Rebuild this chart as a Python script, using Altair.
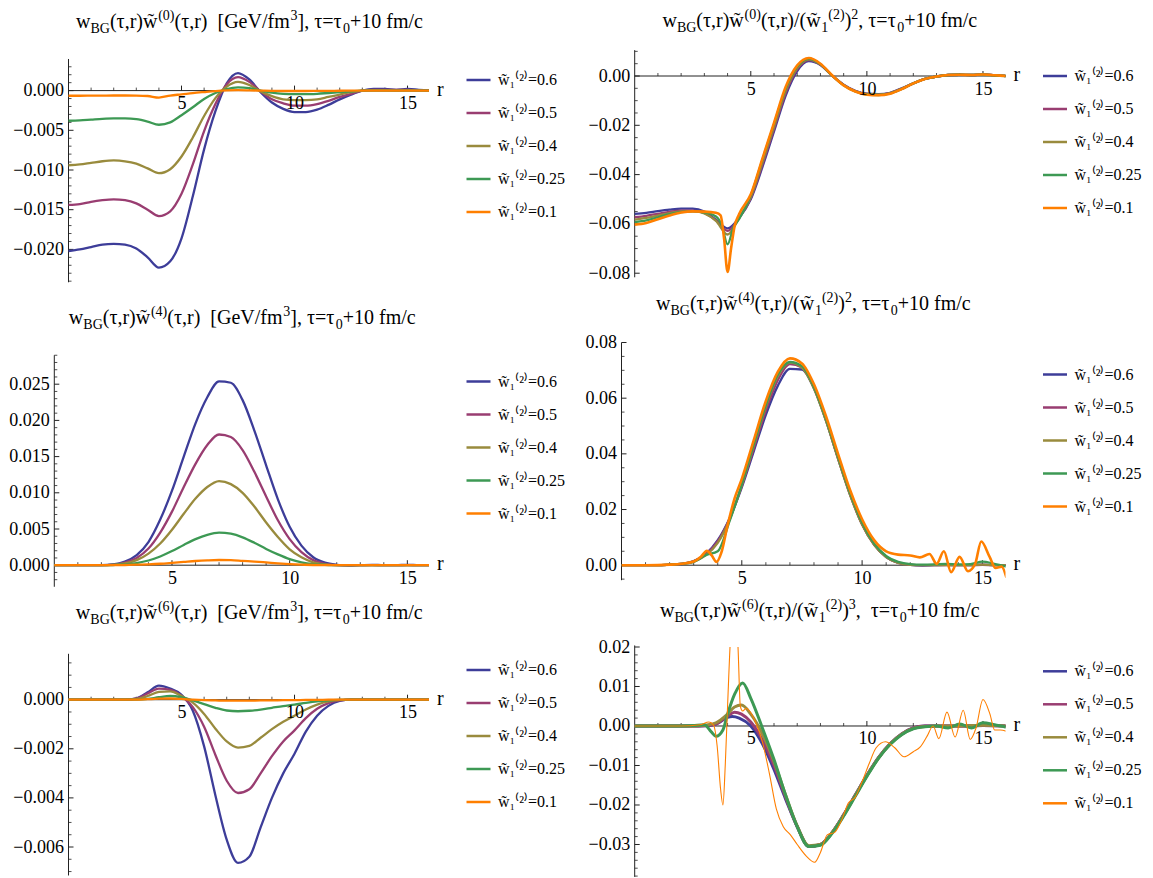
import altair as alt
import pandas as pd

FONT = "Liberation Serif"
AXIS_COLOR = "#222222"
UNIT = 1e-3
NB = "\u00a0"
WT = "w\u0303"

SERIES = [WT + "\u2081\u207d\u00b2\u207e=0.6", WT + "\u2081\u207d\u00b2\u207e=0.5",
          WT + "\u2081\u207d\u00b2\u207e=0.4", WT + "\u2081\u207d\u00b2\u207e=0.25",
          WT + "\u2081\u207d\u00b2\u207e=0.1"]
COLORS = ["#3d3d99", "#993d71", "#998b3d", "#3d9954", "#ff7f00"]

R = [0, 0.5, 1, 1.5, 2, 2.5, 3, 3.5, 4, 4.5, 5, 5.5, 6, 6.5, 7, 7.5, 8, 8.5,
     9, 9.5, 10, 10.5, 11, 11.5, 12, 12.5, 13, 13.5, 14, 14.5, 15, 15.5, 16]
X_MAJOR = [5, 10, 15]
X_MINOR = [1, 2, 3, 4, 6, 7, 8, 9, 11, 12, 13, 14]

# ---------------- panel 1 : w_BG w^(0)  (units 1e-3)
P1_06 = [-20.2, -20.0, -19.7, -19.4, -19.3, -19.4, -19.9, -21.0, -22.3, -21.5, -18.6, -13.3, -7.4, -2.6, 0.9,
         2.2, 1.4, -0.2, -1.5, -2.3, -2.7, -2.7, -2.4, -1.8, -1.1, -0.5, 0.0, 0.2, 0.2, 0.1, 0.2, 0.1, 0.0]
P1_05 = [-14.4, -14.3, -14.0, -13.8, -13.7, -13.8, -14.2, -15.0, -15.8, -15.2, -13.0, -9.3, -5.1, -1.7, 0.8,
         1.7, 1.1, -0.1, -1.1, -1.6, -1.9, -1.9, -1.7, -1.3, -0.8, -0.4, 0.0, 0.1, 0.1, 0.1, 0.1, 0.05, 0.0]
P1_04 = [-9.4, -9.3, -9.1, -8.9, -8.8, -8.9, -9.2, -9.8, -10.4, -9.9, -8.3, -5.9, -3.2, -0.95, 0.5,
         1.1, 0.7, -0.1, -0.7, -1.1, -1.2, -1.2, -1.1, -0.8, -0.5, -0.2, 0.0, 0.05, 0.05, 0.0, 0.05, 0.0, 0.0]
P1_025 = [-3.8, -3.75, -3.65, -3.55, -3.5, -3.5, -3.6, -3.9, -4.3, -4.0, -3.1, -2.1, -1.05, -0.3, 0.2,
          0.4, 0.3, 0.0, -0.25, -0.4, -0.45, -0.45, -0.4, -0.3, -0.2, -0.1, 0, 0, 0, 0, 0, 0, 0]
P1_01 = [-0.65, -0.65, -0.64, -0.63, -0.62, -0.62, -0.63, -0.68, -0.88, -0.62, -0.47, -0.31, -0.18, -0.06, 0.02,
         0.05, 0.03, 0.0, -0.03, -0.05, -0.05, -0.05, -0.04, -0.03, -0.02, -0.01, 0, 0, 0, 0, 0, 0, 0]

# ---------------- panel 2 : normalised w^(0)
P2_06 = [-55.9, -55.5, -54.8, -54.2, -53.8, -53.8, -55.0, -58.3, -61.8, -57.5, -50.0, -37.0, -22.5, -8.0, 2.0,
         6.0, 4.5, 0.2, -3.5, -6.0, -7.2, -7.4, -6.8, -5.0, -3.0, -1.2, -0.2, 0.4, 0.5, 0.4, 0.6, 0.3, 0.0]
P2_05 = [-57.3, -56.7, -55.9, -55.1, -54.6, -54.6, -55.6, -58.6, -62.8, -57.5, -49.5, -36.0, -21.5, -7.0, 2.8,
         6.5, 4.6, 0.2, -3.6, -6.1, -7.3, -7.5, -6.9, -5.1, -3.0, -1.2, -0.2, 0.4, 0.5, 0.4, 0.6, 0.3, 0.0]
P2_04 = [-58.3, -57.6, -56.6, -55.6, -54.9, -54.8, -55.8, -58.8, -64.3, -57.5, -49.0, -35.0, -20.5, -6.0, 3.3,
         6.8, 4.7, 0.2, -3.7, -6.2, -7.4, -7.6, -7.0, -5.2, -3.0, -1.2, -0.2, 0.4, 0.5, 0.4, 0.6, 0.3, 0.0]
P2_025_R = [0, 0.5, 1, 1.5, 2, 2.5, 3, 3.5, 3.75, 4, 4.25, 4.5, 5, 5.5, 6, 6.5, 7, 7.5, 8, 8.5,
            9, 9.5, 10, 10.5, 11, 11.5, 12, 12.5, 13, 13.5, 14, 14.5, 15, 15.5, 16]
P2_025 = [-59.3, -58.6, -57.3, -56.0, -55.2, -54.9, -55.3, -57.0, -60.5, -68.3, -61.5, -58.0, -48.5, -34.0,
          -19.5, -5.2, 3.8, 7.0, 4.8, 0.2, -3.8, -6.3, -7.5, -7.7, -7.1, -5.3, -3.0, -1.2, -0.2, 0.4, 0.5,
          0.4, 0.5, 0.2, 0.0]
P2_01_R = [0, 0.5, 1, 1.5, 2, 2.5, 3, 3.5, 3.7, 3.85, 4.0, 4.15, 4.3, 4.5, 5, 5.5, 6, 6.5, 7, 7.5, 8, 8.5,
           9, 9.5, 10, 10.5, 11, 11.5, 12, 12.5, 13, 13.5, 14, 14.5, 15, 15.5, 16]
P2_01 = [-60.3, -59.6, -58.1, -56.6, -55.4, -54.9, -55.0, -55.5, -56.5, -66.0, -79.5, -70.0, -61.0, -56.0,
         -48.0, -33.5, -19.0, -4.5, 4.3, 7.3, 5.0, 0.3, -3.8, -6.3, -7.6, -7.8, -7.2, -5.3, -3.0, -1.2, -0.2,
         0.4, 0.5, 0.4, 0.6, 0.3, 0.0]

# ---------------- panel 3 : w_BG w^(4)
P3_06 = [0, 0, 0, 0, 0, 0.1, 0.5, 1.4, 3.2, 6.3, 10.3, 15.0, 19.6, 23.2, 25.4, 25.2, 22.8, 18.6, 13.8, 9.1,
         5.3, 2.7, 1.1, 0.35, 0.05, -0.05, 0, 0.05, 0, 0, 0.05, 0, 0]
P3_05 = [0, 0, 0, 0, 0, 0.07, 0.35, 1.0, 2.3, 4.5, 7.4, 10.8, 14.0, 16.6, 18.05, 17.7, 15.9, 12.9, 9.5, 6.2,
         3.6, 1.8, 0.7, 0.2, 0.0, 0, 0, 0, 0, 0, 0, 0, 0]
P3_04 = [0, 0, 0, 0, 0, 0.05, 0.25, 0.7, 1.6, 3.0, 4.9, 7.1, 9.2, 10.8, 11.6, 11.2, 10.0, 8.1, 5.9, 3.9,
         2.2, 1.1, 0.4, 0.1, 0, 0, 0, 0, 0, 0, 0, 0, 0]
P3_025 = [0, 0, 0, 0, 0, 0.03, 0.1, 0.3, 0.65, 1.2, 1.95, 2.8, 3.6, 4.2, 4.5, 4.35, 3.85, 3.1, 2.25, 1.5,
          0.85, 0.4, 0.15, 0.05, 0, 0, 0, 0, 0, 0, 0, 0, 0]
P3_01 = [0, 0, 0, 0, 0, 0, 0.03, 0.07, 0.12, 0.2, 0.32, 0.45, 0.58, 0.67, 0.72, 0.7, 0.6, 0.5, 0.38, 0.25,
         0.15, 0.08, 0.03, 0.01, 0, 0, 0, 0, 0, 0, 0, 0, 0]

# ---------------- panel 4 : normalised w^(4)
P4_06 = [0, 0, 0, 0, 0.2, 0.5, 1.5, 4.0, 9.0, 17.0, 28.0, 41.0, 54.0, 64.5, 70.5, 70.3, 63.5, 52.0, 38.5, 25.5,
         14.8, 7.5, 3.0, 0.9, 0.1, -0.1, 0, 0.1, 0, 0, 0.2, 0, 0]
P4_05 = [0, 0, 0, 0, 0.2, 0.5, 1.4, 3.8, 8.6, 16.8, 28.5, 42.0, 55.5, 66.5, 72.2, 71.0, 63.8, 52.0, 38.3, 25.3,
         14.6, 7.3, 2.9, 0.8, 0.1, 0, 0, 0, 0, 0, 0.1, 0, 0]
P4_04 = [0, 0, 0, 0, 0.2, 0.5, 1.3, 3.5, 8.0, 16.5, 28.8, 43.0, 57.0, 68.0, 72.8, 71.0, 63.5, 51.8, 38.3, 25.3,
         14.6, 7.3, 2.9, 0.8, 0.1, 0, 0, 0, 0, 0, 0.2, 0, 0]
P4_025 = [0, 0, 0, 0, 0.2, 0.5, 1.2, 3.6, 5.0, 16.0, 29.0, 43.5, 57.5, 68.5, 73.0, 71.5, 64.0, 52.5, 39.0, 26.0,
          15.3, 7.8, 3.3, 1.2, 0.4, 0.2, 0.3, 0.5, 0.3, 0.4, 1.3, 0.5, -0.5]
P4_01_R = [0, 1, 2, 2.5, 3, 3.3, 3.55, 3.75, 3.95, 4.15, 4.4, 4.7, 5, 5.5, 6, 6.5, 7, 7.5, 8, 8.5,
           9, 9.5, 10, 10.5, 11, 11.5, 12, 12.4, 12.8, 13.1, 13.4, 13.7, 14.05, 14.4, 14.7, 14.95, 15.3,
           15.55, 15.8, 16]
P4_01 = [0, 0, 0.2, 0.5, 1.3, 3.0, 5.2, 3.5, 1.2, 4.5, 14.0, 24.0, 31.0, 45.0, 59.0, 69.5, 74.3, 72.5, 65.0,
         53.5, 40.0, 27.0, 16.5, 9.0, 5.0, 3.8, 3.5, 2.8, 4.0, 0.5, 5.0, -2.5, 3.0, -2.2, 0.5, 8.5, 3.0, -1.0,
         -0.5, -4.5]

# ---------------- panel 5 : w_BG w^(6)
P5_06 = [0, 0, 0, 0, 0, 0, 0.05, 0.3, 0.57, 0.45, 0.2, -0.45, -1.9, -3.9, -5.7, -6.65, -6.4, -5.2, -4.0, -3.0,
         -2.2, -1.3, -0.65, -0.25, -0.05, 0, 0, 0, 0, 0, 0, 0, 0]
P5_05 = [0, 0, 0, 0, 0, 0, 0.04, 0.25, 0.45, 0.4, 0.15, -0.3, -1.1, -2.25, -3.3, -3.8, -3.65, -3.0, -2.3, -1.7,
         -1.25, -0.75, -0.37, -0.14, -0.03, 0, 0, 0, 0, 0, 0, 0, 0]
P5_04 = [0, 0, 0, 0, 0, 0, 0.03, 0.15, 0.32, 0.34, 0.15, -0.12, -0.58, -1.18, -1.7, -1.95, -1.88, -1.55, -1.2,
         -0.9, -0.65, -0.4, -0.2, -0.07, -0.01, 0, 0, 0, 0, 0, 0, 0, 0]
P5_025 = [0, 0, 0, 0, 0, 0, 0, 0.03, 0.1, 0.15, 0.1, -0.03, -0.18, -0.33, -0.44, -0.47, -0.45, -0.4, -0.33,
          -0.26, -0.2, -0.13, -0.07, -0.03, -0.01, 0, 0, 0, 0, 0, 0, 0, 0]
P5_01 = [0, 0, 0, 0, 0, 0, 0, 0.02, 0.04, 0.05, 0.03, 0, -0.02, -0.03, -0.04, -0.04, -0.04, -0.03, -0.03, -0.02,
         -0.02, -0.01, -0.01, 0, 0, 0, 0, 0, 0, 0, 0, 0, 0]

# ---------------- panel 6 : normalised w^(6)
P6_06_R = [0, 1, 2, 2.5, 3, 3.5, 4, 4.2, 4.5, 5, 5.5, 6, 6.5, 7, 7.5, 8, 8.5, 9, 9.5, 10,
           10.5, 11, 11.5, 12, 12.5, 13, 14, 15, 16]
P6_06 = [0, 0, 0, 0, 0.05, 0.5, 2.2, 2.4, 2.0, 0.0, -4.5, -11.0, -18.5, -25.5, -30.5, -30.0, -27.0, -22.5,
         -17.5, -12.5, -8.0, -4.5, -2.0, -0.5, 0, 0, 0, 0.1, 0]
P6_05_R = [0, 1, 2, 2.5, 3, 3.5, 4, 4.3, 4.6, 5, 5.5, 6, 6.5, 7, 7.5, 8, 8.5, 9, 9.5, 10,
           10.5, 11, 11.5, 12, 12.5, 13, 14, 15, 16]
P6_05 = [0, 0, 0, 0, 0.05, 0.5, 2.5, 3.5, 3.0, 1.0, -3.5, -10.0, -18.0, -25.5, -30.5, -30.0, -27.0, -22.5,
         -17.5, -12.5, -8.0, -4.5, -2.0, -0.5, 0, 0, 0, 0.1, 0]
P6_04_R = [0, 1, 2, 2.5, 3, 3.5, 4, 4.3, 4.6, 5, 5.5, 6, 6.5, 7, 7.5, 8, 8.5, 9, 9.5, 10,
           10.5, 11, 11.5, 12, 12.5, 13, 14, 15, 16]
P6_04 = [0, 0, 0, 0, 0.2, 0.8, 3.0, 4.8, 5.3, 3.0, -2.0, -9.0, -17.5, -25.3, -30.3, -30.0, -27.0, -22.6,
         -17.6, -12.6, -8.1, -4.6, -2.1, -0.6, -0.1, 0, 0, 0.2, 0]
P6_025_R = [0, 1, 2, 2.5, 3, 3.3, 3.5, 3.8, 4, 4.3, 4.65, 5, 5.5, 6, 6.5, 7, 7.5, 8, 8.5, 9,
            9.5, 10, 10.5, 11, 11.5, 12, 12.5, 13, 13.5, 14, 14.5, 15, 15.5, 16]
P6_025 = [0, 0, 0, 0.1, 0.3, -1.5, -2.6, -1.0, 3.0, 8.0, 10.9, 7.0, -0.5, -8.5, -17.5, -25.5, -30.5, -30.2,
          -27.2, -22.8, -17.8, -12.8, -8.2, -4.7, -2.2, -0.7, -0.2, 0, -0.5, 0.5, -0.5, 0.8, 0.3, -0.3]
P6_01_R = [0, 2, 2.8, 3.2, 3.4, 3.55, 3.7, 3.8, 3.9, 4.0, 4.15, 4.3, 4.45, 4.55, 4.65, 4.8, 4.95, 5.2, 5.5,
           5.8, 6.1, 6.4, 6.7, 7.0, 7.4, 7.75, 8.0, 8.3, 8.6, 8.9, 9.2, 9.5, 9.8, 10.1, 10.4, 10.8, 11.2,
           11.6, 12.0, 12.3, 12.6, 12.85, 13.1, 13.45, 13.8, 14.15, 14.45, 14.7, 15.0, 15.3, 15.5, 15.75, 16]
P6_01 = [0, 0, 0.3, 1.0, 0.2, -5, -16, -20, -10, 5, 25, 32, 20, 5, 3.8, 4.5, 3.8, 1, -4, -12, -21, -25.5,
         -27.5, -30, -33, -34.5, -32, -27.5, -27, -24, -19.5, -18, -14, -9.5, -5.5, -4.0, -5.5, -7.8, -6.5,
         -5.3, -2.5, 0, -3.2, 3.5, -2.8, 4.0, -3.4, -0.5, 6.7, 3.0, -1.0, -1.0, -1.3]


# ---------------- titles (text, kind)
def _title(order, normalised, power=None, gap=""):
    segs = [("w", "n"), ("BG", "sub"), ("(τ,r)" + WT, "n"), ("(" + order + ")", "sup")]
    if not normalised:
        segs += [("(τ,r)" + NB + NB + "[GeV/fm", "n"), ("3", "sup"), ("]," + NB + "τ=τ", "n")]
    else:
        segs += [("(τ,r)/(" + WT, "n"), ("1", "sub"), ("(2)", "sup"), (")", "n"), (power, "sup"),
                 ("," + gap + NB + "τ=τ", "n")]
    segs += [("0", "sub"), ("+10" + NB + "fm/c", "n")]
    return segs


TW = {"w": 0.722, "B": 0.667, "G": 0.722, "(": 0.333, ")": 0.333, "τ": 0.44, ",": 0.25, "r": 0.333,
      NB: 0.25, " ": 0.25, "[": 0.333, "]": 0.333, "e": 0.444, "V": 0.722, "/": 0.278, "f": 0.333,
      "m": 0.778, "=": 0.564, "+": 0.564, "c": 0.444, "\u0303": 0.0}
SIZES = {"n": 20, "sub": 14, "sup": 14}
DYS = {"n": 0, "sub": 5, "sup": -8}


def text_width(s, size):
    return sum(TW.get(ch, 0.5) for ch in s) * size


def title_layers(segs, cx, base):
    total = sum(text_width(t, SIZES[k]) for t, k in segs)
    x = cx - total / 2
    out = []
    for t, k in segs:
        out.append(
            alt.Chart(pd.DataFrame({"t": [t]}))
            .mark_text(align="left", baseline="alphabetic", font=FONT, fontSize=SIZES[k], color="black")
            .encode(x=alt.value(x), y=alt.value(base + DYS[k]), text="t:N")
        )
        x += text_width(t, SIZES[k])
    return out


def minor_ticks(lo, hi, step, majors):
    vals, n = [], 0
    while lo + n * step <= hi + 1e-12:
        v = round(lo + n * step, 6)
        if all(abs(v - m) > 1e-9 for m in majors):
            vals.append(v)
        n += 1
    return vals


PANELS = [
    dict(series=[(R, P1_06), (R, P1_05), (R, P1_04), (R, P1_025), (R, P1_01)],
         W=375, H=232.3, xdom=(-0.6416, 15.95), ydom=(-0.024143, 0.005113), yline=(-0.02414, 0.00398),
         yt=[-0.02, -0.015, -0.01, -0.005, 0.0], ystep=0.001, fmt=".3f", leg=(411, 16.5),
         title=_title("0", False), tc=195.5, tb=-21.7, sw=(2.3, 2.3)),
    dict(series=[(R, P2_06), (R, P2_05), (R, P2_04), (P2_025_R, P2_025), (P2_01_R, P2_01)],
         W=384, H=232.3, xdom=(-0.568, 15.97), ydom=(-0.08369, 0.010548), yline=(-0.08166, 0.0105),
         yt=[-0.08, -0.06, -0.04, -0.02, 0.0], ystep=0.005, fmt=".2f", leg=(420, 12.5),
         title=_title("0", True, "2"), tc=198.3, tb=-23.0, sw=(2.3, 2.6)),
    dict(series=[(R, P3_06), (R, P3_05), (R, P3_04), (R, P3_025), (R, P3_01)],
         W=375, H=244.3, xdom=(-0.013, 15.92), ydom=(-0.002983, 0.03076), yline=(-0.00298, 0.0290),
         yt=[0.0, 0.005, 0.01, 0.015, 0.02, 0.025], ystep=0.001, fmt=".3f", leg=(411, 25.5),
         title=_title("4", False), tc=188.3, tb=-18.3, sw=(2.3, 2.3)),
    dict(series=[(R, P4_06), (R, P4_05), (R, P4_04), (R, P4_025), (P4_01_R, P4_01)],
         W=384, H=244.3, xdom=(0.0, 15.96), ydom=(-0.00776, 0.08), yline=(-0.00539, 0.08),
         yt=[0.0, 0.02, 0.04, 0.06, 0.08], ystep=0.005, fmt=".2f", leg=(420, 18.5),
         title=_title("4", True, "2"), tc=191.9, tb=-32.3, sw=(2.3, 2.6)),
    dict(series=[(R, P5_06), (R, P5_05), (R, P5_04), (R, P5_025), (R, P5_01)],
         W=375, H=230.0, xdom=(-0.6416, 15.95), ydom=(-0.007222, 0.002147), yline=(-0.00716, 0.00187),
         yt=[-0.006, -0.004, -0.002, 0.0], ystep=0.0005, fmt=".3f", leg=(411, 9.5),
         title=_title("6", False), tc=195.3, tb=-28.3, sw=(2.3, 2.3)),
    dict(series=[(P6_06_R, P6_06), (P6_05_R, P6_05), (P6_04_R, P6_04), (P6_025_R, P6_025), (P6_01_R, P6_01)],
         W=384, H=230.0, xdom=(-0.568, 15.97), ydom=(-0.03823, 0.0200), yline=(-0.0382, 0.0204),
         yt=[-0.03, -0.02, -0.01, 0.0, 0.01, 0.02], ystep=0.002, fmt=".2f", leg=(420, 10.8),
         title=_title("6", True, "3", NB), tc=198.3, tb=-30.0, sw=(3.0, 1.1)),
]


def panel(cfg):
    rows = []
    for name, (rs, vs) in zip(SERIES, cfg["series"]):
        for r, v in zip(rs, vs):
            rows.append({"r": r, "v": v * UNIT, "series": name})
    df = pd.DataFrame(rows)
    W, H = cfg["W"], cfg["H"]
    x0, x1 = cfg["xdom"]
    y0, y1 = cfg["ydom"]
    zero_px = y1 / (y1 - y0) * H
    r0_px = -x0 / (x1 - x0) * W
    xs = alt.Scale(domain=[x0, x1], nice=False, zero=False)
    ys = alt.Scale(domain=[y0, y1], nice=False, zero=False)

    xaxis = alt.Axis(values=X_MAJOR, format="d", offset=-(H - zero_px), domain=False, ticks=False, grid=False,
                     labelFont=FONT, labelFontSize=18, labelColor="black", labelPadding=4,
                     labelFlush=False, labelOverlap=False, title=None, zindex=1)
    yaxis = alt.Axis(values=cfg["yt"], format=cfg["fmt"], offset=-r0_px, domain=False, ticks=False,
                     grid=False, labelFont=FONT, labelFontSize=18, labelColor="black", labelPadding=5,
                     labelFlush=False, labelOverlap=False, title=None)

    legend = alt.Legend(title=None, orient="none", legendX=cfg["leg"][0], legendY=cfg["leg"][1],
                        symbolType="stroke", symbolSize=576, symbolStrokeWidth=2.5, labelFont=FONT,
                        labelFontSize=16, labelColor="black", rowPadding=11, labelOffset=6, padding=0,
                        direction="vertical")
    cscale = alt.Scale(domain=SERIES, range=COLORS)

    xa_df = pd.DataFrame({"r": [0.0], "r2": [x1], "v": [0.0]})
    ya_df = pd.DataFrame({"r": [0.0], "v": [cfg["yline"][0]], "v2": [cfg["yline"][1]]})
    yt_major = pd.DataFrame({"v": cfg["yt"], "r": [0.0] * len(cfg["yt"])})
    ymin_list = minor_ticks(cfg["yline"][0] - (cfg["yline"][0] % cfg["ystep"]) + cfg["ystep"],
                            cfg["yline"][1], cfg["ystep"], cfg["yt"])
    yt_minor = pd.DataFrame({"v": ymin_list, "r": [0.0] * len(ymin_list)})
    xt_major = pd.DataFrame({"r": X_MAJOR, "v": [0.0] * len(X_MAJOR)})
    xt_minor = pd.DataFrame({"r": X_MINOR, "v": [0.0] * len(X_MINOR)})

    def X():
        return alt.X("r:Q", scale=xs, axis=xaxis)

    def Y():
        return alt.Y("v:Q", scale=ys, axis=yaxis)

    main_df = df[df["series"] != SERIES[-1]]
    last_df = df[df["series"] == SERIES[-1]]

    layers = [
        alt.Chart(xa_df).mark_rule(color=AXIS_COLOR, strokeWidth=1).encode(x=X(), x2="r2:Q", y=Y()),
        alt.Chart(ya_df).mark_rule(color=AXIS_COLOR, strokeWidth=1).encode(x=X(), y=Y(), y2="v2:Q"),
        alt.Chart(yt_major).mark_rule(color=AXIS_COLOR, strokeWidth=1, x2Offset=5).encode(x=X(), x2="r:Q", y=Y()),
        alt.Chart(yt_minor).mark_rule(color=AXIS_COLOR, strokeWidth=0.8, x2Offset=3).encode(x=X(), x2="r:Q", y=Y()),
        alt.Chart(xt_major).mark_rule(color=AXIS_COLOR, strokeWidth=1, y2Offset=-5).encode(x=X(), y=Y(), y2="v:Q"),
        alt.Chart(xt_minor).mark_rule(color=AXIS_COLOR, strokeWidth=0.8, y2Offset=-3).encode(x=X(), y=Y(), y2="v:Q"),
        alt.Chart(main_df).mark_line(clip=True, interpolate="monotone", strokeWidth=cfg["sw"][0]).encode(
            x=X(), y=Y(), color=alt.Color("series:N", scale=cscale, legend=legend)),
        alt.Chart(last_df).mark_line(clip=True, interpolate="monotone", strokeWidth=cfg["sw"][1]).encode(
            x=X(), y=Y(), color=alt.Color("series:N", scale=cscale, legend=legend)),
        alt.Chart(pd.DataFrame({"v": [0.0], "t": ["r"]})).mark_text(
            align="left", baseline="alphabetic", dy=5, font=FONT, fontSize=20, color="black"
        ).encode(x=alt.value(W + 8), y=Y(), text="t:N"),
    ]
    layers += title_layers(cfg["title"], cfg["tc"], cfg["tb"])
    return alt.layer(*layers).properties(width=W, height=H)


chart = (
    alt.concat(*[panel(c) for c in PANELS], columns=2, spacing={"row": 59.5, "column": 192.5}, bounds="flush")
    .resolve_scale(x="independent", y="independent", color="independent")
    .properties(padding={"left": 0, "top": 0, "right": 0, "bottom": 0}, background="white")
    .configure_view(stroke=None)
)

chart.save("out.html", embed_options={"renderer": "svg", "actions": False})
